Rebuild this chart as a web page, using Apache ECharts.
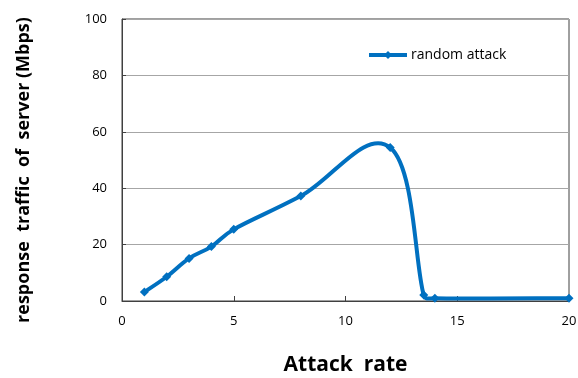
<!DOCTYPE html>
<html>
<head>
<meta charset="utf-8">
<script src="https://cdn.jsdelivr.net/npm/echarts@6/dist/echarts.min.js"></script>
<style>
    html, body { margin: 0; padding: 0; background: #fff; }
    #chart { width: 578px; height: 378px; }
</style>
</head>
<body>
<div id="chart"></div>
<script>
// values
const attackRate = [1, 2, 3, 4, 5, 8, 12, 13.5, 14, 20];
const traffic = [3.2, 8.6, 15.1, 19.3, 25.4, 37.2, 54.4, 2.1, 1.0, 1.0];
const seriesName = 'random attack';

const blue = '#0070C0';
const font = '"Open Sans", "Noto Sans", sans-serif';

// spreadsheet-like smoothing: tangent through neighbours, control arm
// scaled by segment length and capped so short segments don't loop
function smoothCurve(params, api) {
    const pts = attackRate.map((x, i) => api.coord([x, traffic[i]]));
    const k = 0.5, cap = 1 / 5;
    const n = pts.length;
    const dist = (a, b) => Math.hypot(b[0] - a[0], b[1] - a[1]);
    const cpOut = [], cpIn = [];
    for (let i = 0; i < n; i++) {
        const prev = pts[Math.max(i - 1, 0)];
        const next = pts[Math.min(i + 1, n - 1)];
        const p = pts[i];
        const d0 = dist(prev, p), d1 = dist(p, next);
        const s = d0 + d1 || 1;
        const fIn = Math.min(k * d0 / s, cap);
        const fOut = Math.min(k * d1 / s, cap);
        const vx = next[0] - prev[0], vy = next[1] - prev[1];
        cpIn.push([p[0] - vx * fIn, p[1] - vy * fIn]);
        cpOut.push([p[0] + vx * fOut, p[1] + vy * fOut]);
    }
    const children = [];
    for (let i = 0; i < n - 1; i++) {
        children.push({
            type: 'bezierCurve',
            shape: {
                x1: pts[i][0], y1: pts[i][1],
                x2: pts[i + 1][0], y2: pts[i + 1][1],
                cpx1: cpOut[i][0], cpy1: cpOut[i][1],
                cpx2: cpIn[i + 1][0], cpy2: cpIn[i + 1][1]
            },
            style: { stroke: blue, lineWidth: 4, fill: null, lineCap: 'round', lineJoin: 'round' }
        });
    }
    return { type: 'group', children: children };
}

const chart = echarts.init(document.getElementById('chart'));
chart.setOption({
    animation: false,
    grid: {
        show: true,
        left: 122, right: 9, top: 19, bottom: 77,
        outerBoundsMode: 'none',
        containLabel: false,
        borderColor: '#404040',
        borderWidth: 1
    },
    legend: {
        data: [seriesName],
        left: 362, top: 43,
        itemWidth: 38, itemHeight: 10,
        itemGap: 0,
        lineStyle: { color: blue, width: 4, opacity: 1 },
        textStyle: { fontFamily: font, fontSize: 14, color: '#000', padding: [0, 0, 0, -1] }
    },
    xAxis: {
        type: 'value',
        min: 0, max: 20, interval: 5,
        name: 'Attack  rate',
        nameLocation: 'center',
        nameGap: 54,
        nameTextStyle: { fontFamily: font, fontSize: 21, fontWeight: 'bold', color: '#000' },
        axisLine: { show: true, lineStyle: { color: '#404040', width: 1 } },
        axisTick: { show: true, inside: true, length: 5, lineStyle: { color: '#404040' } },
        axisLabel: { fontFamily: font, fontSize: 13, color: '#000', margin: 14 },
        splitLine: { show: false }
    },
    yAxis: {
        type: 'value',
        min: 0, max: 100, interval: 20,
        name: 'response  traffic  of  server (Mbps)',
        nameLocation: 'center',
        nameGap: 89,
        nameTextStyle: { fontFamily: font, fontSize: 18, fontWeight: 'bold', color: '#000', padding: [0, 20, 0, 0] },
        axisLine: { show: true, lineStyle: { color: '#404040', width: 1 } },
        axisTick: { show: true, inside: true, length: 4, lineStyle: { color: '#404040' } },
        axisLabel: { fontFamily: font, fontSize: 13, color: '#000', margin: 15 },
        splitLine: { show: true, lineStyle: { color: '#a6a6a6', width: 1 } }
    },
    series: [{
        type: 'custom',
        renderItem: smoothCurve,
        data: [0],
        silent: true,
        z: 2
    }, {
        name: seriesName,
        type: 'line',
        data: attackRate.map((x, i) => [x, traffic[i]]),
        symbol: 'diamond',
        symbolSize: 9,
        itemStyle: { color: blue },
        lineStyle: { color: blue, width: 4, opacity: 0 },
        z: 3
    }]
});
</script>
</body>
</html>
